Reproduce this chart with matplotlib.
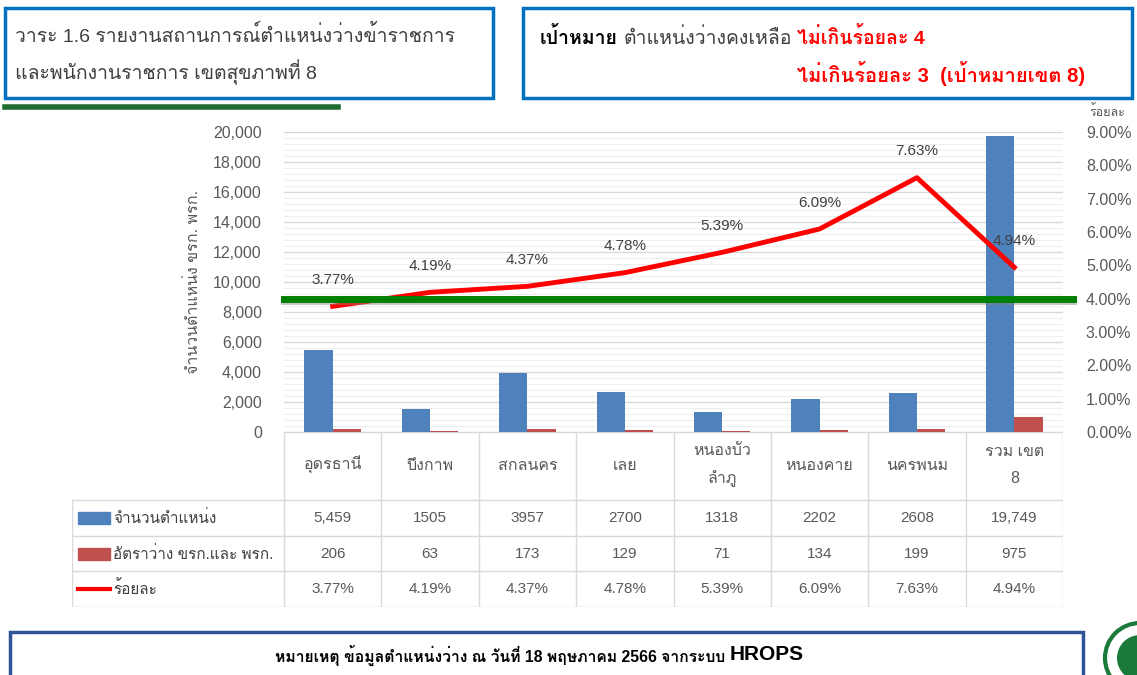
import numpy as np
import matplotlib
matplotlib.use("Agg")
import matplotlib.pyplot as plt
import matplotlib.patches as mpatches
import matplotlib.patheffects as pe
from matplotlib import font_manager
from matplotlib.ft2font import FT2Font
from matplotlib.ticker import MultipleLocator, FuncFormatter

# data
categories = ["อุดรธานี", "บึงกาพ", "สกลนคร", "เลย", "หนองบัว\nลำภู", "หนองคาย", "นครพนม", "รวม เขต\n8"]
positions = [5459, 1505, 3957, 2700, 1318, 2202, 2608, 19749]
positions_txt = ["5,459", "1505", "3957", "2700", "1318", "2202", "2608", "19,749"]
vacant = [206, 63, 173, 129, 71, 134, 199, 975]
pct = [3.77, 4.19, 4.37, 4.78, 5.39, 6.09, 7.63, 4.94]
target_pct = 4.0

series_names = ["จำนวนตำแหน่ง", "อัตราว่าง ขรก.และ พรก.", "ร้อยละ"]
left_ticks = list(range(0, 20001, 2000))
right_ticks = list(range(0, 10))

BLUE = "#4F81BD"
RED = "#C0504D"
LINE_RED = "#FF0000"
GRID = "#D9D9D9"
GRAY = "#595959"
DARK = "#404040"


def find_thai_font():
    prefer = ["Noto Sans Thai", "Noto Sans Thai UI", "Tahoma", "Loma", "Garuda",
              "Sarabun", "TH Sarabun New", "Norasi", "Noto Serif Thai"]
    found = {}
    for f in font_manager.fontManager.ttflist:
        try:
            cmap = FT2Font(f.fname).get_charmap()
        except Exception:
            continue
        if 0x0E01 in cmap:
            w = f.weight if isinstance(f.weight, int) else font_manager.weight_dict.get(f.weight, 400)
            found.setdefault(f.name, set()).add(w)
    if not found:
        return None, False
    names = [p for p in prefer if p in found] + [n for n in found if n not in prefer]
    for n in names:
        if max(found[n]) >= 600:
            return n, True
    return names[0], False


thai, thai_bold = find_thai_font()
fams = ["Liberation Sans"]
if thai:
    fams.append(thai)
fams.append("DejaVu Sans")
plt.rcParams["font.family"] = fams


def bold_fx(color):
    # thicken glyphs when the Thai family has no bold face
    if thai_bold:
        return []
    return [pe.withStroke(linewidth=0.8, foreground=color)]


W, H = 1137, 675
fig = plt.figure(figsize=(W / 100, H / 100), dpi=100)


def fx(x):
    return x / W


def fy(y):
    return 1 - y / H


# ---- main chart
L, R, T, B = 284, 1063, 132, 432
ax = fig.add_axes([fx(L), fy(B), fx(R) - fx(L), fy(T) - fy(B)])
x = np.arange(len(categories))
bw = 0.29
ax.bar(x - bw / 2, positions, bw, color=BLUE, zorder=3)
ax.bar(x + bw / 2, vacant, bw, color=RED, zorder=3)
ax.set_xlim(-0.5, len(categories) - 0.5)
ax.set_ylim(0, 20000)
ax.set_yticks(left_ticks)
ax.yaxis.set_minor_locator(MultipleLocator(400))
ax.grid(axis="y", which="major", color=GRID, lw=1, zorder=0)
ax.grid(axis="y", which="minor", color="#EEEEEE", lw=0.8, zorder=0)
ax.set_axisbelow(True)
ax.set_xticks([])
for s in ax.spines.values():
    s.set_visible(False)
ax.tick_params(axis="y", which="both", length=0, pad=16, labelsize=11.5, labelcolor=GRAY)
ax.yaxis.set_major_formatter(FuncFormatter(lambda v, p: f"{v:,.0f}"))

ax2 = ax.twinx()
ax2.set_ylim(0, 9)
ax2.set_yticks(right_ticks)
ax2.yaxis.set_major_formatter(FuncFormatter(lambda v, p: f"{v:.2f}%"))
ax2.tick_params(axis="y", length=0, pad=16.5, labelsize=11.5, labelcolor=GRAY)
for s in ax2.spines.values():
    s.set_visible(False)
ax2.plot(x, pct, color=LINE_RED, lw=3.5, zorder=3)
for i, v in enumerate(pct):
    ax2.annotate(f"{v:.2f}%", (i, v), xytext=(0, 19), textcoords="offset points",
                 ha="center", va="center", fontsize=11, color=DARK)
ax2.plot([-0.5, 7.6], [target_pct, target_pct], color="#008000", lw=5, clip_on=False, zorder=4,
         path_effects=[pe.SimpleLineShadow(offset=(0, -2), shadow_color="gray", alpha=0.45),
                       pe.Normal()])

fig.text(fx(193), fy(282), "จำนวนตำแหน่ง ขรก. พรก.", rotation=90, ha="center", va="center",
         fontsize=11.5, color=GRAY)
fig.text(fx(1107), fy(112), "ร้อยละ", ha="center", va="center", fontsize=9, color=GRAY)

# ---- data table under the chart
TL, TB = 72, 607
legw = (L - TL) / ((R - L) / len(categories))
tb = fig.add_axes([fx(TL), fy(TB), fx(R) - fx(TL), fy(B) - fy(TB)])
tb.set_xlim(-0.5 - legw, len(categories) - 0.5)
tb.set_ylim(0, 175)
tb.axis("off")
x0 = -0.5 - legw
row_y = [107, 71, 36, 0]
tb.plot([-0.5, 7.5], [175, 175], color=GRID, lw=1)
for yy in row_y:
    tb.plot([x0, 7.5], [yy, yy], color=GRID, lw=1)
for i in range(len(categories) + 1):
    tb.plot([i - 0.5, i - 0.5], [0, 175], color=GRID, lw=1)
tb.plot([x0, x0], [0, 107], color=GRID, lw=1)

for i, c in enumerate(categories):
    tb.text(i, 142, c, ha="center", va="center", fontsize=11.5, color=GRAY, linespacing=2.0)
    tb.text(i, 89, positions_txt[i], ha="center", va="center", fontsize=11, color=GRAY)
    tb.text(i, 53.5, f"{vacant[i]:,}", ha="center", va="center", fontsize=11, color=GRAY)
    tb.text(i, 18, f"{pct[i]:.2f}%", ha="center", va="center", fontsize=11, color=GRAY)

sx = x0 + 6 / 97.4
sw = 32 / 97.4
tb.add_patch(mpatches.Rectangle((sx, 83), sw, 12, color=BLUE))
tb.add_patch(mpatches.Rectangle((sx, 47.5), sw, 12, color=RED))
tb.plot([sx, sx + sw], [18, 18], color=LINE_RED, lw=3)
for yy, name in zip([89, 53.5, 18], series_names):
    tb.text(sx + sw + 0.03, yy, name, ha="left", va="center", fontsize=11, color=DARK)


# ---- header boxes
def box(x1, y1, x2, y2, color, lw=2.5):
    fig.patches.append(mpatches.Rectangle((fx(x1), fy(y2)), fx(x2) - fx(x1), fy(y1) - fy(y2),
                                          transform=fig.transFigure, fill=False, ec=color, lw=lw,
                                          clip_on=False))


box(5, 8, 493, 98, "#0070C0")
fig.text(fx(15), fy(35), "วาระ 1.6 รายงานสถานการณ์ตำแหน่งว่างข้าราชการ", fontsize=14,
         color=DARK, va="center")
fig.text(fx(15), fy(72), "และพนักงานราชการ เขตสุขภาพที่ 8", fontsize=14, color=DARK, va="center")
fig.lines.append(plt.Line2D([fx(5), fx(338)], [fy(107), fy(107)], transform=fig.transFigure,
                            color="#1E6B30", lw=4))

box(523, 8, 1132, 98, "#0070C0")
renderer = fig.canvas.get_renderer()


def text_run(xp, yp, parts):
    for s, kw in parts:
        t = fig.text(fx(xp), fy(yp), s, va="center", ha="left", **kw)
        xp += t.get_window_extent(renderer).width


text_run(540, 38, [("เป้าหมาย", dict(fontsize=14, weight="bold", color="black",
                                      path_effects=bold_fx("black"))),
                   (" ", dict(fontsize=14)),
                   ("ตำแหน่งว่างคงเหลือ", dict(fontsize=14, color=DARK)),
                   (" ", dict(fontsize=14)),
                   ("ไม่เกินร้อยละ 4", dict(fontsize=14, weight="bold", color=LINE_RED,
                                            path_effects=bold_fx(LINE_RED)))])
fig.text(fx(797), fy(73), "ไม่เกินร้อยละ 3  (เป้าหมายเขต 8)", fontsize=14.5, weight="bold",
         color=LINE_RED, va="center", path_effects=bold_fx(LINE_RED))

# ---- footer
box(10, 632, 1083, 700, "#2F5597")
text_run(275, 655, [("หมายเหตุ ข้อมูลตำแหน่งว่าง ณ วันที่ 18 พฤษภาคม 2566 จากระบบ ",
                     dict(fontsize=11.3, weight="bold", color="black",
                          path_effects=bold_fx("black"))),
                    ("HROPS", dict(fontsize=15, weight="bold", color="black"))])

fig.patches.append(mpatches.Ellipse((fx(1140), fy(658)), 70 / W, 70 / H, transform=fig.transFigure,
                                    fc="white", ec="#1B7A3A", lw=3))
fig.patches.append(mpatches.Ellipse((fx(1140), fy(658)), 46 / W, 46 / H, transform=fig.transFigure,
                                    fc="#1B7A3A", ec="none"))

fig.savefig("out.png", dpi=100)
